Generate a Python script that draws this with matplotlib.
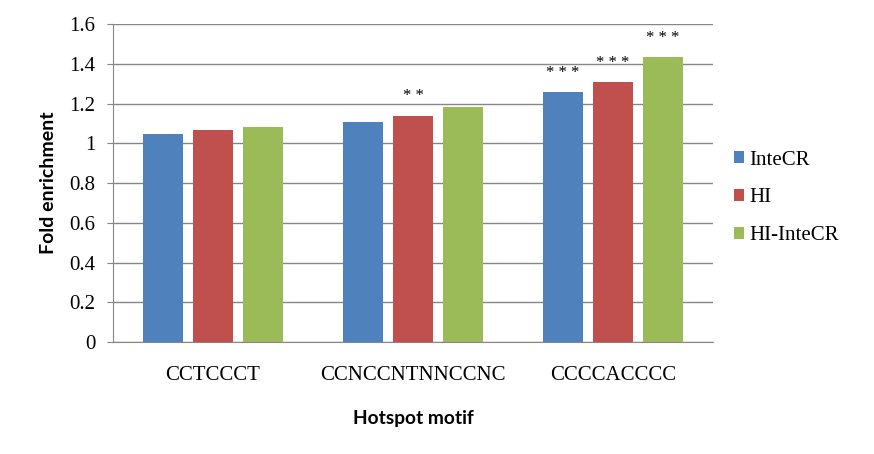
import matplotlib.pyplot as plt
import numpy as np

# data
motifs = ['CCTCCCT', 'CCNCCNTNNCCNC', 'CCCCACCCC']
series = ['InteCR', 'HI', 'HI-InteCR']
intecr = [1.05, 1.11, 1.26]
hi = [1.07, 1.14, 1.31]
hi_intecr = [1.085, 1.185, 1.435]
stars_intecr = ['', '', '* * *']
stars_hi = ['', '* *', '* * *']
stars_hi_intecr = ['', '', '* * *']

colors = ['#4F81BD', '#C0504D', '#9BBB59']
serif = 'Liberation Serif'

fig = plt.figure(figsize=(8.74, 4.54), dpi=100)
ax = fig.add_axes([113 / 874, 1 - 342 / 454, 600 / 874, 317.7 / 454])

x = np.arange(len(motifs))
vals = [intecr, hi, hi_intecr]
stars = [stars_intecr, stars_hi, stars_hi_intecr]
for k in range(3):
    pos = x + (k - 1) * 0.25
    ax.bar(pos, vals[k], width=0.2, color=colors[k], label=series[k], zorder=3)
    for p, v, s in zip(pos, vals[k], stars[k]):
        if s:
            ax.annotate(s, (p, v), xytext=(0, 11), textcoords='offset points',
                        ha='center', va='baseline', fontsize=12, family=serif)

ax.set_xlim(-0.5, 2.5)
ax.set_ylim(0, 1.6)
ax.set_yticks(np.arange(0, 1.61, 0.2))
ax.set_yticklabels(['0', '0.2', '0.4', '0.6', '0.8', '1', '1.2', '1.4', '1.6'],
                   family=serif, fontsize=15)
ax.set_xticks(x)
ax.set_xticklabels(motifs, family=serif, fontsize=15)
ax.tick_params(axis='x', length=0, pad=17)
ax.tick_params(axis='y', length=4.5, color='#868686', pad=8)
ax.yaxis.grid(True, color='#868686', lw=1)
ax.set_axisbelow(True)
for s in ['top', 'right']:
    ax.spines[s].set_visible(False)
ax.spines['left'].set_color('#868686')
ax.spines['bottom'].set_color('#868686')

ax.set_ylabel('Fold enrichment', family='Lato', fontweight='bold', fontsize=14, labelpad=9)
ax.set_xlabel('Hotspot motif', family='Lato', fontweight='bold', fontsize=13.8, labelpad=18)

fig.legend(loc='center left', bbox_to_anchor=(734 / 874, 1 - 198 / 454), frameon=False,
           prop={'family': serif, 'size': 15}, handlelength=0.5, handleheight=0.5,
           handletextpad=0.25, labelspacing=0.9, borderpad=0, borderaxespad=0)

fig.savefig('out.png', dpi=100)
